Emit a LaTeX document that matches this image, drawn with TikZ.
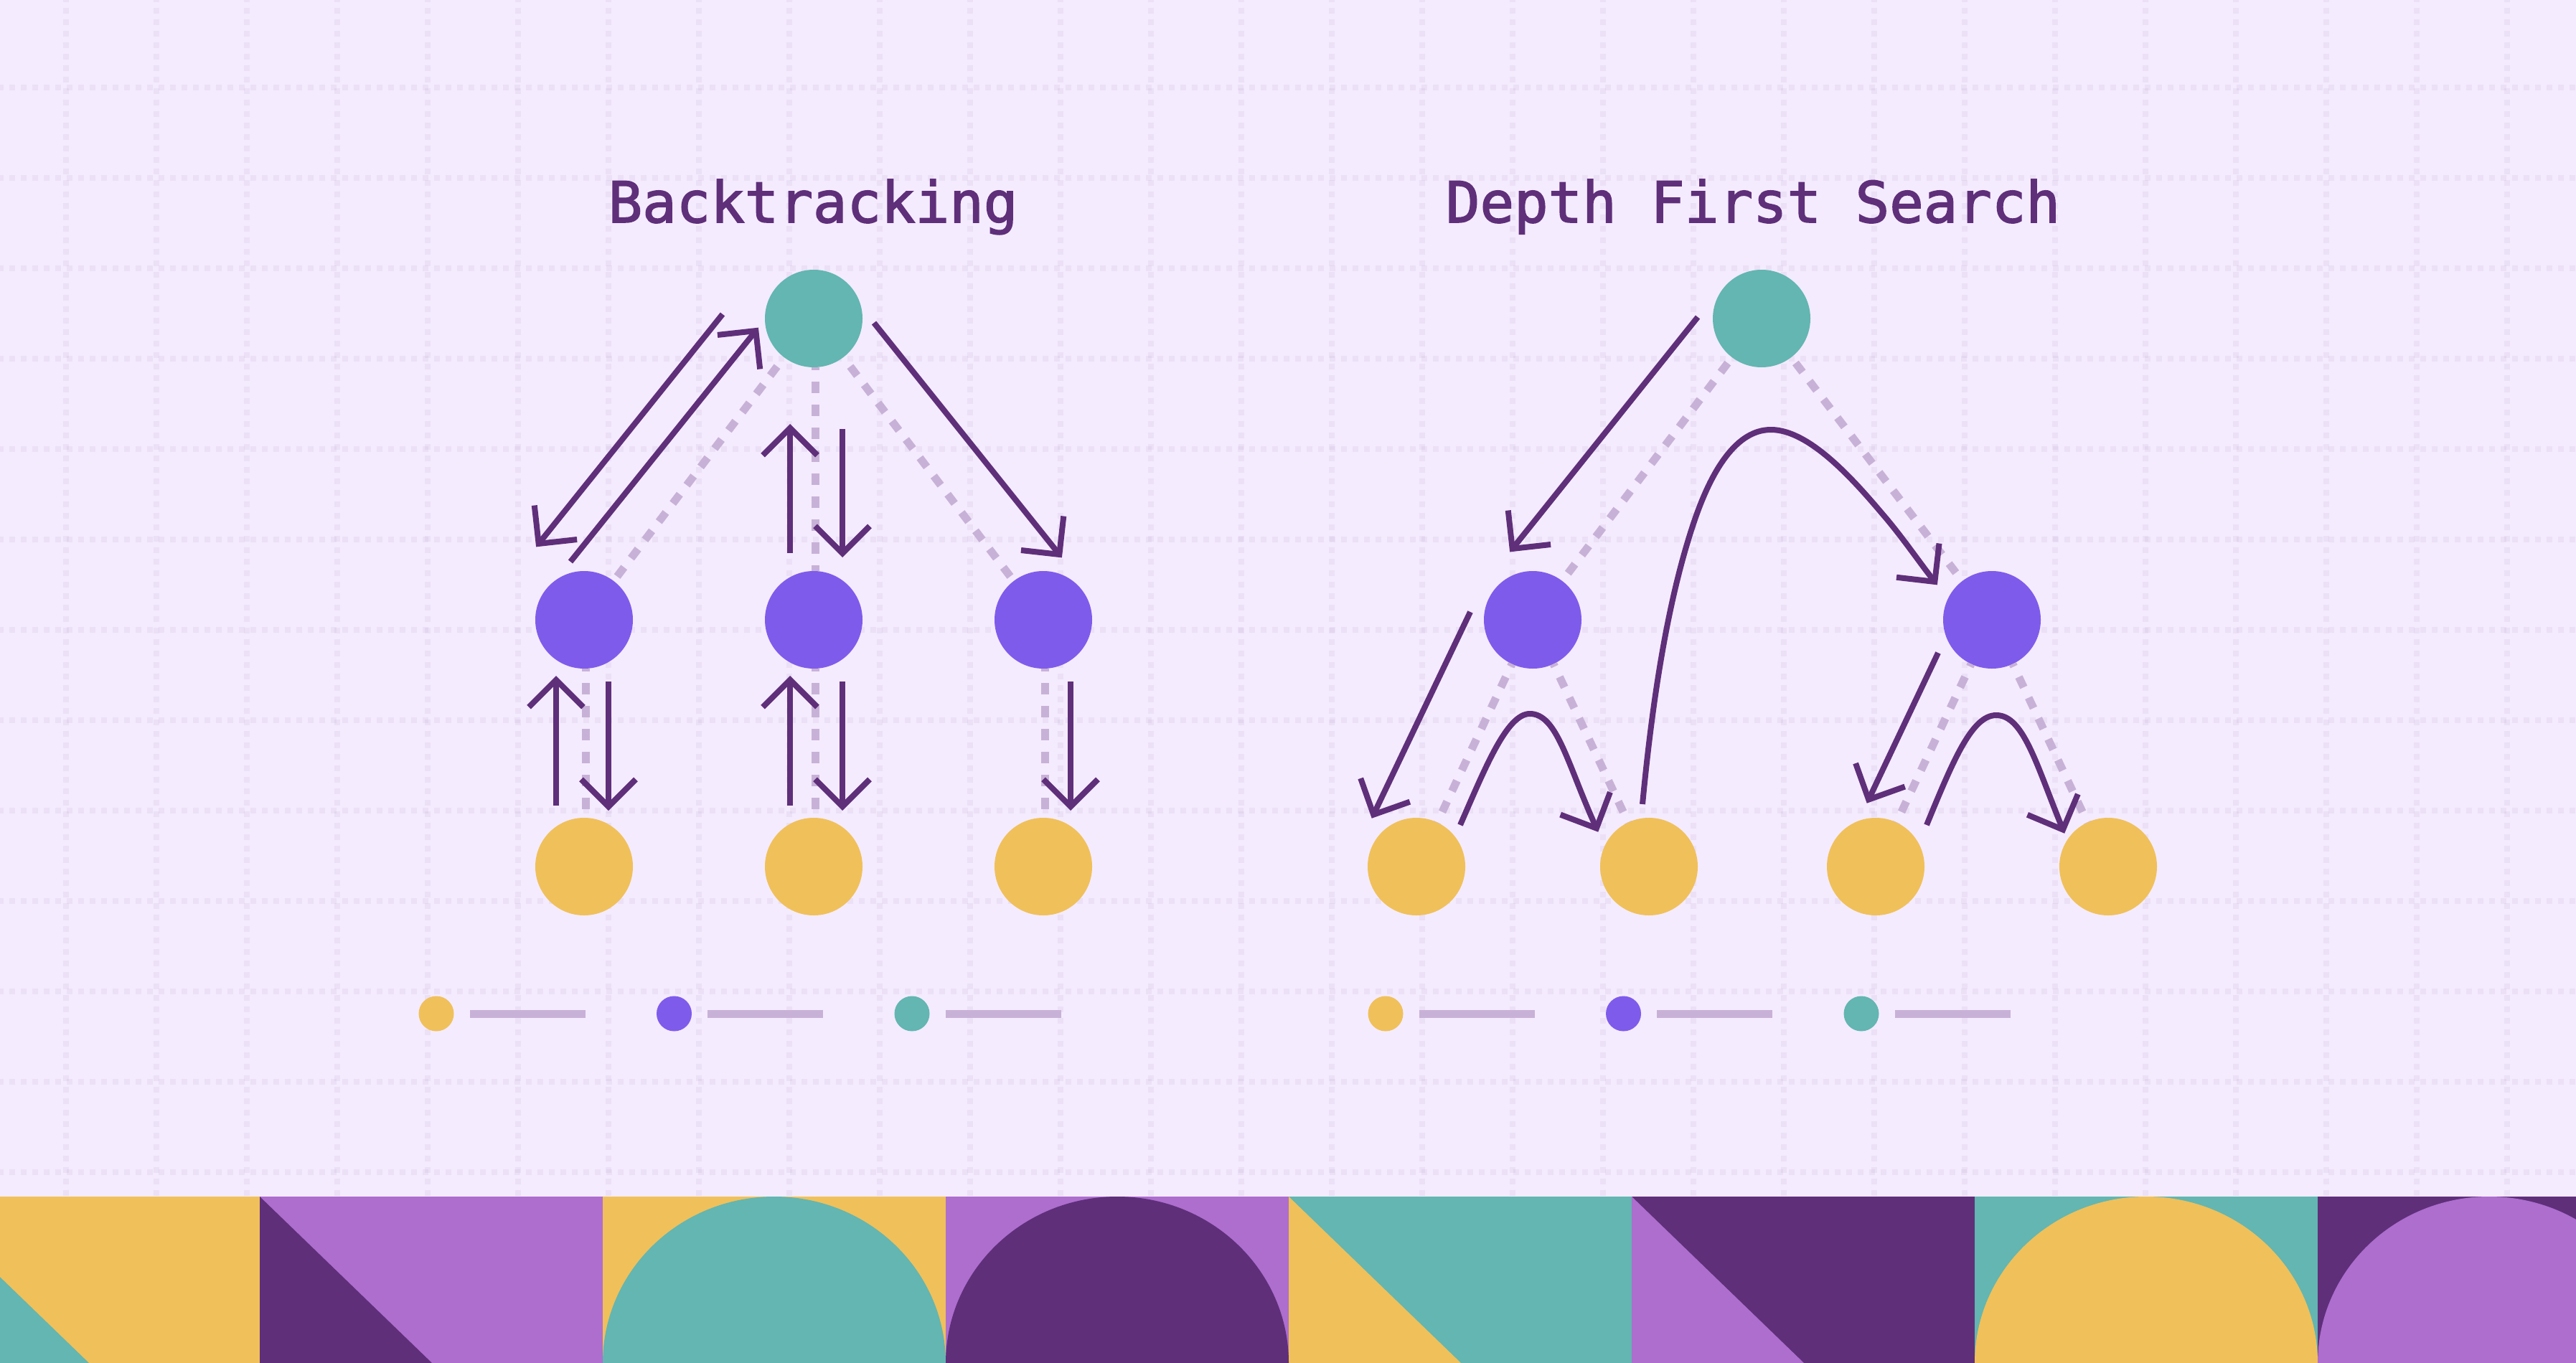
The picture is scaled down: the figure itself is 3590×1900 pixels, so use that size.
\documentclass[tikz,border=0pt]{standalone}
\usepackage{fontspec}
\usetikzlibrary{positioning, arrows.meta}
\newfontfamily\titlefont[FakeBold=2]{DejaVu Sans Mono}
\definecolor{paper}{HTML}{F4EBFE}
\definecolor{plum}{HTML}{5F2F7A}
\definecolor{orchid}{HTML}{AD6ECE}
\definecolor{teal2}{HTML}{63B6B1}
\definecolor{amber}{HTML}{F0C05A}
\definecolor{iris}{HTML}{7F5BEB}
\definecolor{lilac}{HTML}{C8B1D7}
\tikzset{
	dot/.style = {circle, inner sep = 0pt, outer sep = 0pt, minimum size = 136pt},
	rootdot/.style = {dot, fill = teal2},
	innerdot/.style = {dot, fill = iris},
	leafdot/.style = {dot, fill = amber},
	keydot/.style = {circle, inner sep = 0pt, outer sep = 0pt, minimum size = 49pt},
	keybar/.style = {rectangle, inner sep = 0pt, outer sep = 0pt, minimum width = 161pt, minimum height = 11pt, fill = lilac},
	link/.style = {draw = lilac, line width = 11pt, dash pattern = on 16pt off 16pt, dash phase = 12pt},
	walk/.style = {draw = plum, line width = 8pt, shorten > = -3pt, -{Straight Barb[length = 38pt, width = 76pt]}},
	gridline/.style = {draw = plum, opacity = 0.055, line width = 8pt, dash pattern = on 8pt off 8pt},
	heading/.style = {text = plum, anchor = base, inner sep = 0pt, font = \titlefont\fontsize{79}{79}\selectfont}
}
\begin{document}
\begin{tikzpicture}[x = 1pt, y = -1pt]
\path[use as bounding box, clip] (0,0) rectangle (3590,1900);
\fill[paper] (0,0) rectangle (3590,1900);

% dotted paper grid
\foreach \gx in {92,218,...,3500} \draw[gridline] (\gx,-5.3) -- (\gx,1668);
\foreach \gy in {122,248,...,1640} \draw[gridline] (-3,\gy) -- (3590,\gy);

% colour band along the bottom
\foreach \tx/\base/\shade in {-116/amber/teal2, 362/orchid/plum, 1796/teal2/amber, 2274/plum/orchid} {
	\fill[\base] (\tx,1668) rectangle +(478,232);
	\fill[\shade] (\tx,1668) -- +(240,232) -- +(0,232) -- cycle;
}
\foreach \tx/\base/\shade in {840/amber/teal2, 1318/orchid/plum, 2752/teal2/amber, 3230/plum/orchid} {
	\fill[\base] (\tx,1668) rectangle +(478,232);
	\fill[\shade] (\tx+239,1900) ellipse [x radius = 239pt, y radius = 232pt];
}

\node[heading] (title1) at (1133,310) {Backtracking};
\node[heading] (title2) at (2443,310) {Depth First Search};

% backtracking tree
\node[rootdot] (b0) at (1134,444) {};
\node[innerdot, below = 284pt of b0] (b2) {};
\node[innerdot, left = 184pt of b2] (b1) {};
\node[innerdot, right = 184pt of b2] (b3) {};
\node[leafdot, below = 208pt of b1] (b4) {};
\node[leafdot, below = 208pt of b2] (b5) {};
\node[leafdot, below = 208pt of b3] (b6) {};

% depth first tree
\node[rootdot] (d0) at (2455,444) {};
\node[innerdot, below = 284pt of d0, xshift = -319pt] (d1) {};
\node[innerdot, below = 284pt of d0, xshift = 321pt] (d2) {};
\node[leafdot, below = 208pt of d1, xshift = -162pt] (d3) {};
\node[leafdot, below = 208pt of d1, xshift = 162pt] (d4) {};
\node[leafdot, below = 208pt of d2, xshift = -162pt] (d5) {};
\node[leafdot, below = 208pt of d2, xshift = 162pt] (d6) {};

% dashed tree edges
\foreach \from/\to in {d1/d3, d1/d4, d2/d5, d2/d6}
	\draw[link] (\from) -- (\to);
\foreach \to in {b1, b3}
	\draw[link, dash phase = 16pt] (b0) -- (\to);
\foreach \to in {d1, d2}
	\draw[link, dash phase = 22pt] (d0) -- (\to);
\draw[link] ([xshift = 2pt]b0.south) -- ([xshift = 2pt]b2.north);
\foreach \from/\to in {b1/b4, b2/b5, b3/b6}
	\draw[link] ([xshift = 2pt]\from.south) -- ([xshift = 2pt]\to.north);

% ends of the walking arrows
\coordinate (w1a) at (1007,438); \coordinate (w1b) at (749,760);
\coordinate (w2a) at (795,783); \coordinate (w2b) at (1055,459);
\coordinate (w3a) at (1218,450); \coordinate (w3b) at (1478,775);
\coordinate (w4a) at (1101,771); \coordinate (w4b) at (1101,594);
\coordinate (w5a) at (1174,598); \coordinate (w5b) at (1174,774);
\coordinate (w6a) at (775,1123); \coordinate (w6b) at (775,945);
\coordinate (w7a) at (848,950); \coordinate (w7b) at (848,1127);
\coordinate (w8a) at (1101,1123); \coordinate (w8b) at (1101,945);
\coordinate (w9a) at (1174,950); \coordinate (w9b) at (1174,1127);
\coordinate (w10a) at (1492,950); \coordinate (w10b) at (1492,1127);
\coordinate (w11a) at (2366,442); \coordinate (w11b) at (2106,767);
\coordinate (w12a) at (2049,853); \coordinate (w12b) at (1913,1138);
\coordinate (w13a) at (2701,910); \coordinate (w13b) at (2603,1117);
\foreach \n in {1,...,13} \draw[walk] (w\n a) -- (w\n b);

\coordinate (c1a) at (2035,1150); \coordinate (c1t) at (2132,995); \coordinate (c1b) at (2226,1157);
\coordinate (c2a) at (2685,1150); \coordinate (c2t) at (2782,997); \coordinate (c2b) at (2876,1159);
\coordinate (c3a) at (2289,1121); \coordinate (c3t) at (2468,599); \coordinate (c3b) at (2698,813);
\draw[walk] (c1a) .. controls (2070,1070) and (2100,995) .. (c1t) .. controls (2170,995) and (2184,1064) .. (c1b);
\draw[walk] (c2a) .. controls (2722,1060) and (2748,997) .. (c2t) .. controls (2820,997) and (2838,1066) .. (c2b);
\draw[walk] (c3a) .. controls (2308,920) and (2335,805) .. (2360,730) .. controls (2385,655) and (2420,599) .. (c3t)
	.. controls (2520,599) and (2580,665) .. (2623,716) .. controls (2650,747) and (2675,784) .. (c3b);

% legends
\foreach \side/\kx in {l/608, r/1931} {
	\node[keydot, fill = amber] (\side k1) at (\kx,1413) {};
	\node[keybar, right = 22pt of \side k1] (\side s1) {};
	\node[keydot, fill = iris, right = 99.5pt of \side s1] (\side k2) {};
	\node[keybar, right = 22pt of \side k2] (\side s2) {};
	\node[keydot, fill = teal2, right = 99.5pt of \side s2] (\side k3) {};
	\node[keybar, right = 22pt of \side k3] (\side s3) {};
}
\end{tikzpicture}
\end{document}
